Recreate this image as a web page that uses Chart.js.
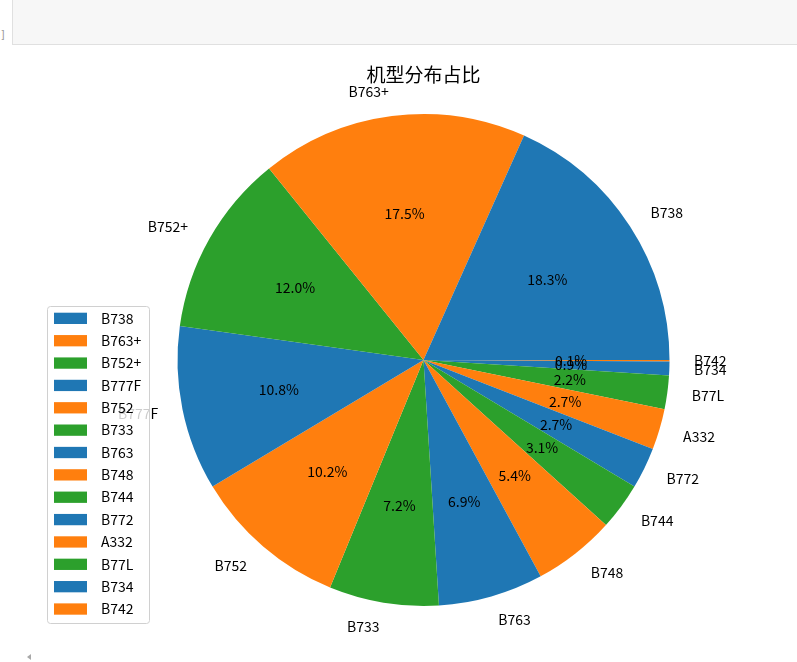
<!DOCTYPE html>
<html>
<head>
<meta charset="utf-8">
<script src="https://cdn.jsdelivr.net/npm/chart.js@4"></script>
<style>
    html, body { margin: 0; padding: 0; background: #fff; overflow: hidden; }
    #wrap { position: relative; width: 797px; height: 662px; }
    #chart { position: absolute; left: 0; top: 0; }
    .cell { position: absolute; left: 12px; top: -1px; width: 790px; height: 46px; background: #f7f7f7; border: 1px solid #e0e0e0; box-sizing: border-box; }
    .prompt { position: absolute; left: 0; top: 29px; font: 10px 'DejaVu Sans Mono', monospace; color: #999; }
    .scroll { position: absolute; left: 27px; top: 654px; width: 0; height: 0; border-top: 3px solid transparent; border-bottom: 3px solid transparent; border-right: 4px solid #a8a8a8; }
</style>
</head>
<body>
<div id="wrap">
    <div class="cell"></div>
    <span class="prompt">]</span>
    <canvas id="chart" width="797" height="662"></canvas>
    <div class="scroll"></div>
</div>
<script>
// datos del gráfico (porcentaje por modelo de avión)
const modelos = ['B738', 'B763+', 'B752+', 'B777F', 'B752', 'B733', 'B763', 'B748', 'B744', 'B772', 'A332', 'B77L', 'B734', 'B742'];
const porcentajes = [18.3, 17.5, 12.0, 10.8, 10.2, 7.2, 6.9, 5.4, 3.1, 2.7, 2.7, 2.2, 0.9, 0.1];
const colores = ['#1f77b4', '#ff7f0e', '#2ca02c'];
const titulo = '机型分布占比';

const FUENTE = "'Noto Sans CJK SC', 'DejaVu Sans', sans-serif";
const colorDe = i => colores[i % colores.length];

// matplotlib dibuja antihorario desde el este; Chart.js va en sentido horario,
// así que invertimos el orden y empezamos en las 3 en punto (rotation 90)
const orden = modelos.map((_, i) => i).reverse();

const etiquetasPlugin = {
    id: 'etiquetas',
    afterDraw(chart) {
        const ctx = chart.ctx;
        const arcos = chart.getDatasetMeta(0).data;
        const cx = arcos[0].x, cy = arcos[0].y, r = arcos[0].outerRadius;

        // título
        ctx.save();
        ctx.fillStyle = '#000';
        ctx.font = '19px ' + FUENTE;
        ctx.textAlign = 'center';
        ctx.textBaseline = 'middle';
        ctx.fillText(titulo, cx, 75);

        // etiquetas externas y porcentajes
        arcos.forEach((arco, j) => {
            const i = orden[j];
            const medio = (arco.startAngle + arco.endAngle) / 2;
            const c = Math.cos(medio), s = Math.sin(medio);
            ctx.font = '14px ' + FUENTE;
            ctx.textBaseline = 'middle';
            ctx.textAlign = c >= 0 ? 'left' : 'right';
            ctx.fillText(modelos[i], cx + 1.1 * r * c, cy + 1.1 * r * s);
            ctx.textAlign = 'center';
            ctx.fillText(porcentajes[i].toFixed(1) + '%', cx + 0.6 * r * c, cy + 0.6 * r * s);
        });

        // leyenda (fondo semitransparente como en matplotlib)
        const lx = 47, ly = 306, lw = 102, lh = 317, paso = 22.36;
        ctx.beginPath();
        ctx.roundRect(lx + 0.5, ly + 0.5, lw, lh, 3);
        ctx.fillStyle = 'rgba(255,255,255,0.8)';
        ctx.fill();
        ctx.strokeStyle = '#d0d0d0';
        ctx.lineWidth = 1;
        ctx.stroke();
        ctx.font = '14px ' + FUENTE;
        ctx.textAlign = 'left';
        modelos.forEach((m, i) => {
            const y = 318.3 + i * paso;
            ctx.fillStyle = colorDe(i);
            ctx.fillRect(54, y - 5.6, 33, 11.3);
            ctx.fillStyle = '#000';
            ctx.fillText(m, 101, y);
        });
        ctx.restore();
    }
};

new Chart(document.getElementById('chart'), {
    type: 'pie',
    data: {
        labels: orden.map(i => modelos[i]),
        datasets: [{
            data: orden.map(i => porcentajes[i]),
            backgroundColor: orden.map(i => colorDe(i)),
            borderWidth: 0,
            radius: 246
        }]
    },
    options: {
        responsive: false,
        animation: false,
        rotation: 90,
        layout: { padding: { left: 100, right: 50, top: 114, bottom: 56 } },
        plugins: { legend: { display: false }, tooltip: { enabled: false }, title: { display: false } }
    },
    plugins: [etiquetasPlugin]
});
</script>
</body>
</html>
